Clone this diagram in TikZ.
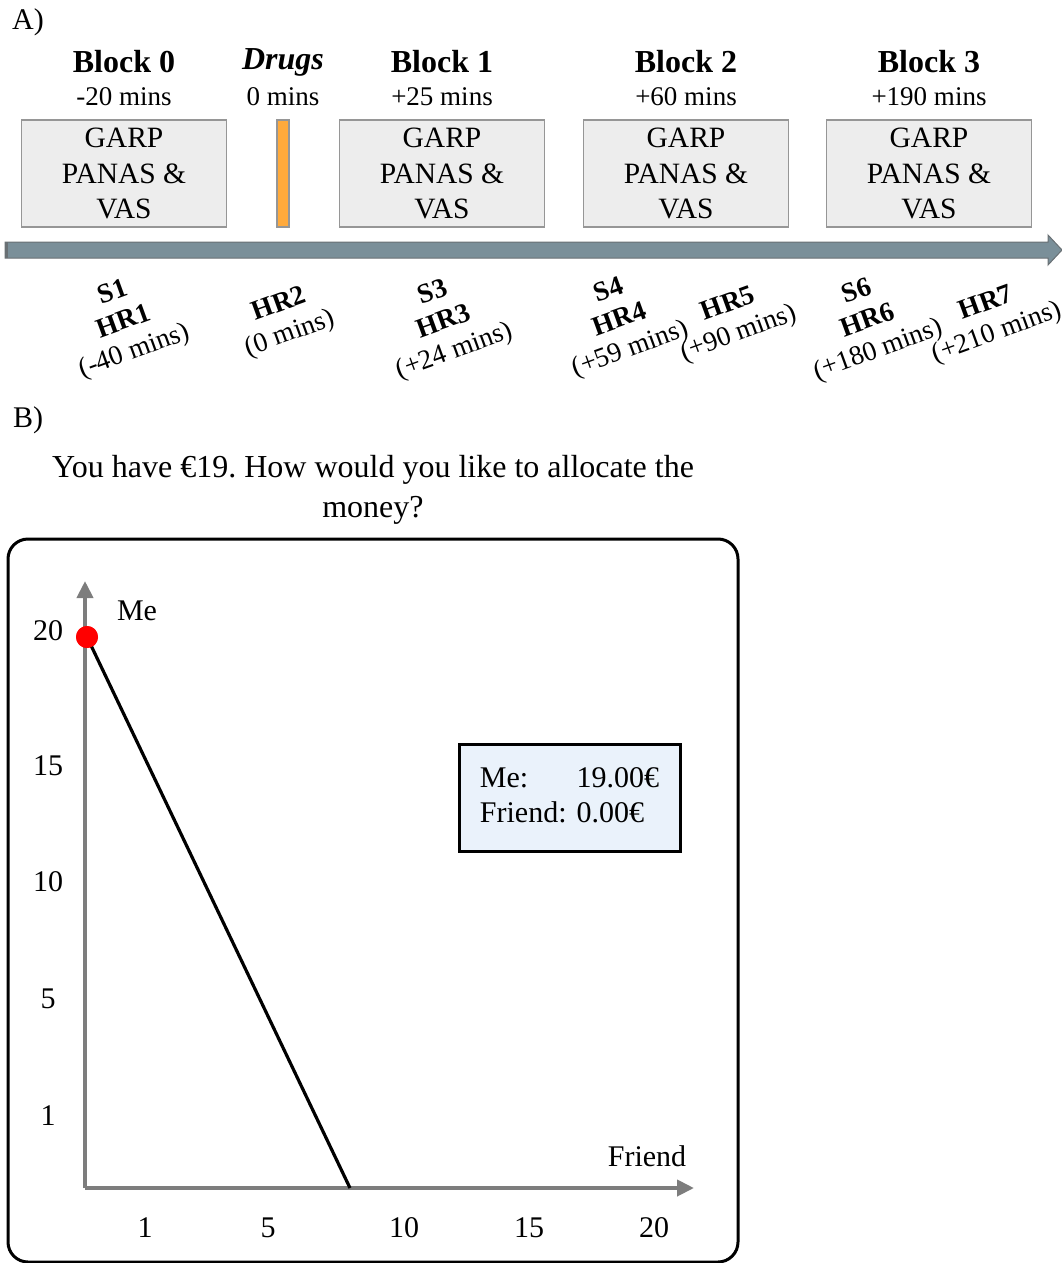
\documentclass[tikz,border=0pt]{standalone}
\usepackage{fontspec}
\setmainfont{Liberation Serif}
\usetikzlibrary{positioning,calc,arrows.meta}
\frenchspacing

\definecolor{boxgray}{RGB}{237,237,237}
\definecolor{boxedge}{RGB}{150,150,150}
\definecolor{drugorange}{RGB}{255,170,60}
\definecolor{timeblue}{RGB}{122,143,153}
\definecolor{timeedge}{RGB}{105,112,116}
\definecolor{axisgray}{RGB}{125,125,125}
\definecolor{infoblue}{RGB}{234,242,251}

\begin{document}
\begin{tikzpicture}[x=1pt, y=-1pt,
    blockbox/.style={draw=boxedge, fill=boxgray, line width=1.5pt, minimum width=205pt,
        minimum height=107pt, inner sep=0pt, align=center, font=\fontsize{29.5}{35.5}\selectfont},
    blocktitle/.style={font=\fontsize{32}{36}\selectfont\bfseries},
    blocktime/.style={font=\fontsize{27}{30}\selectfont},
    hrlabel/.style={rotate=20, align=center, inner sep=0pt, font=\fontsize{27.5}{31}\selectfont},
    ticklabel/.style={font=\fontsize{30}{34}\selectfont},
    axis/.style={draw=axisgray, line width=4pt, -{Triangle[length=17pt, width=16pt]}}
]
    \useasboundingbox (0,0) rectangle (1062,1263);

    % Panel A
    \node[font=\fontsize{30}{34}\selectfont] (pa) at (28,22) {A)};

    % Timeline
    \draw[draw=timeedge, fill=timeblue, line width=1pt]
        (5,242) -- (1048,242) -- (1048,235) -- (1062,250) -- (1048,265) -- (1048,258) -- (5,258) -- cycle;
    \fill[timeedge] (5,242) rectangle (8,258);

    % Blocks
    \foreach \name/\x/\title/\time in {b0/124/Block 0/-20 mins, b1/442/Block 1/+25 mins,
                                       b2/686/Block 2/+60 mins, b3/929/Block 3/+190 mins} {
        \node[blockbox] (\name) at (\x,173.5) {GARP\\PANAS \&\\VAS};
        \node[blocktitle] (\name-title) at (\x,62) {\title};
        \node[blocktime] (\name-time) at (\x,97) {\time};
    }

    % Drugs
    \node[draw=boxedge, fill=drugorange, line width=1.5pt, minimum width=12pt,
        minimum height=107pt, inner sep=0pt] (drug) at (283,173.5) {};
    \node[blocktitle, font=\fontsize{32}{36}\selectfont\bfseries\itshape] (drug-title) at (283,62) {Drugs};
    \node[blocktime] (drug-time) at (283,97) {0 mins};

    % Measurements
    \node[hrlabel] (hr1) at (124,323) {\textbf{S1}\\\textbf{HR1}\\(-40 mins)};
    \node[hrlabel] (hr2) at (285,320) {\textbf{HR2}\\(0 mins)};
    \node[hrlabel] (hr3) at (444,323) {\textbf{S3}\\\textbf{HR3}\\(+24 mins)};
    \node[hrlabel] (hr4) at (620,321) {\textbf{S4}\\\textbf{HR4}\\(+59 mins)};
    \node[hrlabel] (hr5) at (734,320) {\textbf{HR5}\\(+90 mins)};
    \node[hrlabel] (hr6) at (868,322) {\textbf{S6}\\\textbf{HR6}\\(+180 mins)};
    \node[hrlabel] (hr7) at (992,319) {\textbf{HR7}\\(+210 mins)};

    % Panel B
    \node[font=\fontsize{30}{34}\selectfont] (pb) at (28,420) {B)};
    \node[align=center, font=\fontsize{32}{40}\selectfont] (question) at (373,490)
        {You have €19. How would you like to allocate the\\money?};

    % Screen
    \draw[line width=3pt, rounded corners=20pt] (8,539) rectangle (738,1262);

    % Axes
    \coordinate (origin) at (85,1188);
    \coordinate (ytip) at (85,581);
    \coordinate (xtip) at (694,1188);
    \draw[axis] (origin) -- (ytip);
    \draw[axis] (origin) -- (xtip);
    \node[ticklabel] (me) at (137,611) {Me};
    \node[ticklabel] (friend) at (647,1156) {Friend};
    \foreach \v/\y in {20/631, 15/766, 10/882, 5/999, 1/1116}
        \node[ticklabel] (y\v) at (48,\y) {\v};
    \foreach \v/\x in {1/145, 5/268, 10/404, 15/529, 20/654}
        \node[ticklabel] (x\v) at (\x,1228) {\v};

    % Budget line
    \coordinate (cut) at (350,1188);
    \node[circle, fill=red, minimum size=22pt, inner sep=0pt] (choice) at (87,637) {};
    \draw[line width=3.2pt] (choice.center) -- (cut);
    \node[circle, fill=red, minimum size=22pt, inner sep=0pt] at (choice) {};

    % Allocation box
    \node[draw, fill=infoblue, line width=3pt, minimum width=221pt, minimum height=107pt,
        inner sep=0pt, font=\fontsize{30}{35}\selectfont] (alloc) at (569.5,797.5)
        {\begin{tabular}{@{}l@{\hspace{10pt}}l@{}}Me: & 19.00€\\Friend: & 0.00€\end{tabular}};
\end{tikzpicture}
\end{document}
